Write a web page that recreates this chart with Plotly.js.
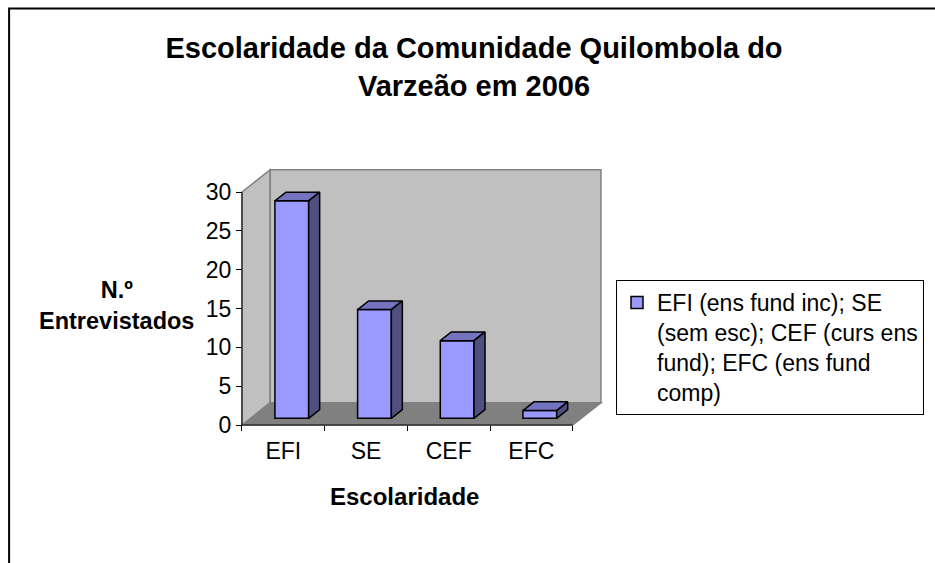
<!DOCTYPE html>
<html>
<head>
<meta charset="utf-8">
<script src="https://cdn.plot.ly/plotly-3.0.1.min.js"></script>
<style>html,body{margin:0;padding:0;background:#fff;}#chart{width:935px;height:563px;}</style>
</head>
<body>
<div id="chart"></div>
<script>
// ---- data ----
const categories = ['EFI', 'SE', 'CEF', 'EFC'];
const values = [28, 14, 10, 1];
const yTickVals = [0, 5, 10, 15, 20, 25, 30];
const seriesName = 'EFI (ens fund inc); SE<br>(sem esc); CEF (curs ens<br>fund); EFC (ens fund<br>comp)';
const chartTitle = '<b>Escolaridade da Comunidade Quilombola do</b><br><b>Varzeão em 2006</b>';
const xTitle = '<b>Escolaridade</b>';
const yTitle = '<b>N.º</b><br><b>Entrevistados</b>';

// ---- layout geometry (pixels) ----
const W = 935, H = 563;
const L = 236, R = 612, T = 160, B = 431;      // plot area
const X0 = 242, Y0 = 425;                      // front origin of the 3D box
const PXX = 82.9, PXY = 233 / 30;              // px per unit
const DX = 28.3, DY = 22.3;                    // depth offset of the box (px)
const FRONT = 0.3, BACK = 0.69;                // bar depth fractions
const BARW = 0.408;                            // bar width in category units

const FONT = 'Liberation Sans, Arial, sans-serif';
const nCat = categories.length;
const yMax = yTickVals[yTickVals.length - 1];

const ddx = DX / PXX, ddy = DY / PXY;
const xr0 = (L - X0) / PXX, xr1 = (R - X0) / PXX;
const yr0 = -(B - Y0) / PXY, yr1 = (Y0 - T) / PXY;
const px = p => (p - L) / (R - L);
const py = p => (B - p) / (B - T);

const bz = FRONT * ddy;                        // floor of the bar's front plane
const barOff = FRONT * ddx - BARW / 2;
const sdx = (BACK - FRONT) * ddx, sdy = (BACK - FRONT) * ddy;

const centers = categories.map((c, i) => i + 0.5);

// top & side faces built from the values
const topX = [], topY = [], sideX = [], sideY = [];
values.forEach((v, i) => {
  const xl = centers[i] + barOff, xr = xl + BARW, top = bz + v;
  topX.push(xl, xr, xr + sdx, xl + sdx, xl, null);
  topY.push(top, top, top + sdy, top + sdy, top, null);
  sideX.push(xr, xr, xr + sdx, xr + sdx, xr, null);
  sideY.push(bz, top, top + sdy, bz + sdy, bz, null);
});

const traces = [
  {
    type: 'bar', x: centers, y: values, base: bz, width: BARW, offset: barOff,
    name: seriesName,
    marker: {color: '#9999ff', line: {color: '#000000', width: 1.5}},
    hoverinfo: 'y'
  },
  {
    type: 'scatter', mode: 'lines', x: topX, y: topY, fill: 'toself', fillcolor: '#7373c0',
    line: {color: '#000000', width: 1.5}, showlegend: false, hoverinfo: 'skip'
  },
  {
    type: 'scatter', mode: 'lines', x: sideX, y: sideY, fill: 'toself', fillcolor: '#4f4f80',
    line: {color: '#000000', width: 1.5}, showlegend: false, hoverinfo: 'skip'
  }
];

const path = pts => 'M' + pts.map(p => p[0] + ',' + p[1]).join(' L') + ' Z';
const wallLine = {color: '#808080', width: 1.5};
const shapes = [
  // floor
  {type: 'path', xref: 'x', yref: 'y', layer: 'below', fillcolor: '#808080', line: wallLine,
   path: path([[0, 0], [nCat, 0], [nCat + ddx, ddy], [ddx, ddy]])},
  // left wall
  {type: 'path', xref: 'x', yref: 'y', layer: 'below', fillcolor: '#c0c0c0', line: wallLine,
   path: path([[0, 0], [0, yMax], [ddx, yMax + ddy], [ddx, ddy]])},
  // back wall
  {type: 'path', xref: 'x', yref: 'y', layer: 'below', fillcolor: '#c0c0c0', line: wallLine,
   path: path([[ddx, ddy], [ddx, yMax + ddy], [nCat + ddx, yMax + ddy], [nCat + ddx, ddy]])},
  // front axis lines
  {type: 'line', xref: 'x', yref: 'y', layer: 'above', x0: 0, y0: 0, x1: 0, y1: yMax,
   line: {color: '#000000', width: 1}},
  {type: 'line', xref: 'x', yref: 'y', layer: 'above', x0: 0, y0: 0, x1: nCat, y1: 0,
   line: {color: '#000000', width: 1}},
  // chart frame
  {type: 'rect', xref: 'paper', yref: 'paper', layer: 'above',
   x0: px(8.5), y0: py(8.5), x1: px(W + 20), y1: py(H + 20),
   line: {color: '#000000', width: 2}}
];

const layout = {
  width: W, height: H,
  margin: {l: L, r: W - R, t: T, b: H - B, pad: 0},
  paper_bgcolor: '#ffffff', plot_bgcolor: 'rgba(0,0,0,0)',
  font: {family: FONT, color: '#000000', size: 22},
  title: {
    text: chartTitle, font: {family: FONT, size: 29, color: '#000000'},
    xref: 'container', yref: 'container', x: 474 / W, xanchor: 'center',
    y: 1 - 58 / H, yanchor: 'top'
  },
  xaxis: {
    range: [xr0, xr1], anchor: 'free', position: py(Y0),
    tickmode: 'array', tickvals: centers, ticktext: categories, ticks: '',
    ticklabelstandoff: 10,
    minor: {tickmode: 'array', tickvals: categories.map((c, i) => i).concat([nCat]),
            ticks: 'outside', ticklen: 5, tickcolor: '#000000', tickwidth: 1, showgrid: false},
    showgrid: false, zeroline: false, showline: false,
    tickfont: {family: FONT, size: 23, color: '#000000'}
  },
  yaxis: {
    range: [yr0, yr1], anchor: 'free', position: px(X0),
    tickmode: 'array', tickvals: yTickVals, ticks: 'outside', ticklen: 6, tickcolor: '#000000',
    showgrid: false, zeroline: false, showline: false,
    tickfont: {family: FONT, size: 23, color: '#000000'}
  },
  shapes: shapes,
  annotations: [
    {text: yTitle, xref: 'paper', yref: 'paper', x: px(116), y: py(305),
     xanchor: 'center', yanchor: 'middle', showarrow: false,
     font: {family: FONT, size: 23.5, color: '#000000'}},
    {text: xTitle, xref: 'paper', yref: 'paper', x: px(405), y: py(496),
     xanchor: 'center', yanchor: 'middle', showarrow: false,
     font: {family: FONT, size: 24, color: '#000000'}}
  ],
  showlegend: true,
  legend: {
    x: px(616), y: py(280), xanchor: 'left', yanchor: 'top', valign: 'top',
    bgcolor: '#ffffff', bordercolor: '#000000', borderwidth: 1,
    entrywidth: 330, entrywidthmode: 'pixels',
    font: {family: FONT, size: 23, color: '#000000'}
  },
  bargap: 0
};

Plotly.newPlot('chart', traces, layout, {displayModeBar: false, staticPlot: true});
</script>
</body>
</html>
